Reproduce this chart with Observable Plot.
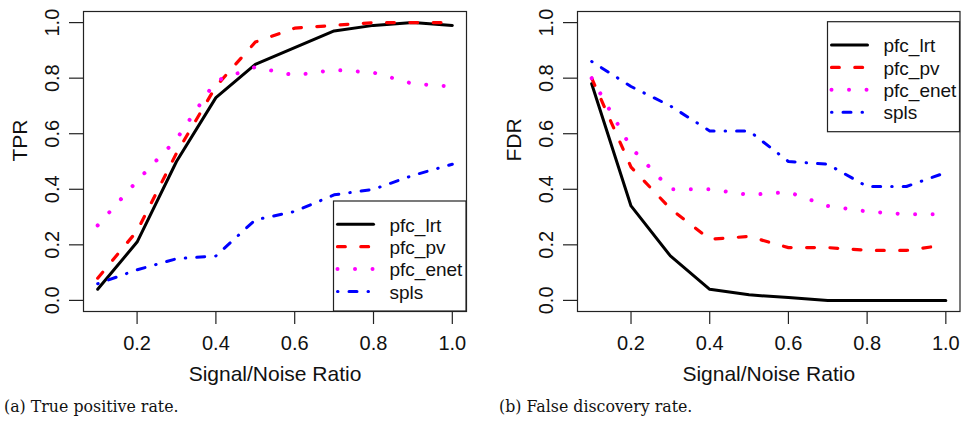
<!DOCTYPE html>
<html><head><meta charset="utf-8">
<script src="https://cdn.jsdelivr.net/npm/d3@7"></script>
<script src="https://cdn.jsdelivr.net/npm/@observablehq/plot@0.6"></script>
<style>
html,body{margin:0;padding:0;background:#fff;}
body{width:963px;height:423px;position:relative;overflow:hidden;}
.panel{position:absolute;top:0;}
.cap{position:absolute;top:398.6px;font-family:"DejaVu Serif",serif;font-size:15.8px;line-height:16px;color:#111;white-space:nowrap;}
</style></head>
<body>
<div id="pa" class="panel" style="left:0px"></div>
<div id="pb" class="panel" style="left:480px"></div>
<div class="cap" style="left:4px">(a) True positive rate.</div>
<div class="cap" style="left:499px">(b) False discovery rate.</div>
<script>
// ---- data ----
const snr = [0.1, 0.2, 0.3, 0.4, 0.5, 0.6, 0.7, 0.8, 0.9, 1.0];
const methods = ["pfc_lrt", "pfc_pv", "pfc_enet", "spls"];

const tprLrt  = [0.04, 0.21, 0.50, 0.73, 0.85, 0.91, 0.97, 0.99, 1.00, 0.99];
const tprPv   = [0.08, 0.25, 0.53, 0.77, 0.93, 0.98, 0.99, 1.00, 1.00, 1.00];
const tprEnet = [0.27, 0.43, 0.58, 0.79, 0.84, 0.81, 0.83, 0.82, 0.78, 0.77];
const tprSpls = [0.06, 0.11, 0.15, 0.16, 0.29, 0.32, 0.38, 0.40, 0.45, 0.49];

const fdrLrt  = [0.78, 0.34, 0.16, 0.04, 0.02, 0.01, 0.00, 0.00, 0.00, 0.00];
const fdrPv   = [0.80, 0.48, 0.33, 0.22, 0.23, 0.19, 0.19, 0.18, 0.18, 0.20];
const fdrEnet = [0.80, 0.55, 0.40, 0.40, 0.38, 0.39, 0.34, 0.32, 0.31, 0.31];
const fdrSpls = [0.86, 0.77, 0.70, 0.61, 0.61, 0.50, 0.49, 0.41, 0.41, 0.46];

const xTicks = [0.2, 0.4, 0.6, 0.8, 1.0];
const yTicks = [0.0, 0.2, 0.4, 0.6, 0.8, 1.0];
const xLabel = "Signal/Noise Ratio";

// ---- styles ----
const lineStyle = {
  pfc_lrt:  {stroke: "#000000", strokeWidth: 3,   strokeDasharray: null},
  pfc_pv:   {stroke: "#ff0000", strokeWidth: 3.2, strokeDasharray: "7.8,15.5"},
  pfc_enet: {stroke: "#ff00ff", strokeWidth: 4,   strokeDasharray: "0.01,17.5"},
  spls:     {stroke: "#0000ff", strokeWidth: 3,   strokeDasharray: "0.5,11,8,11"}
};

function table(series) {
  const rows = [];
  methods.forEach((m, k) => snr.forEach((s, i) => rows.push({method: m, snr: s, value: series[k][i]})));
  return rows;
}

function panel({values, yLabel, width, marginLeft, marginRight, legend}) {
  const data = table(values);
  const height = 390, marginTop = 11, marginBottom = 79;
  const font = "'Liberation Sans', Arial, Helvetica, sans-serif";
  const marks = [
    Plot.frame({stroke: "#222", strokeWidth: 1.2}),
    Plot.text(yTicks, {y: d => d, text: d => d.toFixed(1), frameAnchor: "left", dx: -31, rotate: -90,
      textAnchor: "middle", lineAnchor: "middle", fontSize: 20, fill: "#111"}),
    Plot.text(xTicks, {x: d => d, text: d => d.toFixed(1), frameAnchor: "bottom", dy: 32,
      textAnchor: "middle", lineAnchor: "middle", fontSize: 20, fill: "#111"}),
    Plot.text([xLabel], {text: d => d, frameAnchor: "bottom", dy: 63, lineAnchor: "middle", fontSize: 21, fill: "#111"}),
    Plot.text([yLabel], {text: d => d, frameAnchor: "left", dx: -63.5, rotate: -90, lineAnchor: "middle", fontSize: 21, fill: "#111"}),
    ...methods.map(m => Plot.line(data.filter(d => d.method === m), {
      x: "snr", y: "value", ...lineStyle[m], strokeLinecap: "round", strokeLinejoin: "round"
    }))
  ];
  const svg = Plot.plot({
    width, height, marginTop, marginBottom, marginLeft, marginRight,
    style: {fontFamily: font, background: "white", overflow: "visible", color: "#222"},
    x: {domain: [0.064, 1.036], ticks: xTicks, tickSize: 13, tickFormat: () => "", label: null},
    y: {domain: [-0.04, 1.04], ticks: yTicks, tickSize: 14, tickFormat: () => "", label: null},
    marks
  });
  d3.select(svg).selectAll("[aria-label='x-axis'] line, [aria-label='y-axis'] line, [aria-label='x-axis tick'] path, [aria-label='y-axis tick'] path")
    .attr("stroke-width", 1.2);
  // legend box (layout element)
  const g = d3.select(svg).append("g").attr("font-family", font).attr("font-size", 19).attr("text-anchor", "start");
  const L = legend;
  g.append("rect").attr("x", L.x).attr("y", L.y).attr("width", L.w).attr("height", L.h)
    .attr("fill", "white").attr("stroke", "#222").attr("stroke-width", 1.2);
  methods.forEach((m, i) => {
    const cy = L.y + 23.3 + i * 22.4;
    const st = lineStyle[m];
    g.append("line").attr("x1", L.x + 4).attr("x2", L.x + 40).attr("y1", cy).attr("y2", cy)
      .attr("stroke", st.stroke).attr("stroke-width", st.strokeWidth)
      .attr("stroke-dasharray", st.strokeDasharray).attr("stroke-linecap", "round");
    g.append("text").attr("x", L.x + 56).attr("y", cy + 7.2).attr("text-anchor", "start")
      .attr("fill", "#111").text(m);
  });
  return svg;
}

document.getElementById("pa").appendChild(panel({
  values: [tprLrt, tprPv, tprEnet, tprSpls], yLabel: "TPR",
  width: 480, marginLeft: 83, marginRight: 14,
  legend: {x: 333.5, y: 201, w: 132.5, h: 110}
}));
document.getElementById("pb").appendChild(panel({
  values: [fdrLrt, fdrPv, fdrEnet, fdrSpls], yLabel: "FDR",
  width: 483, marginLeft: 97, marginRight: 3.5,
  legend: {x: 347.5, y: 21.7, w: 132, h: 110}
}));
</script>
</body></html>
